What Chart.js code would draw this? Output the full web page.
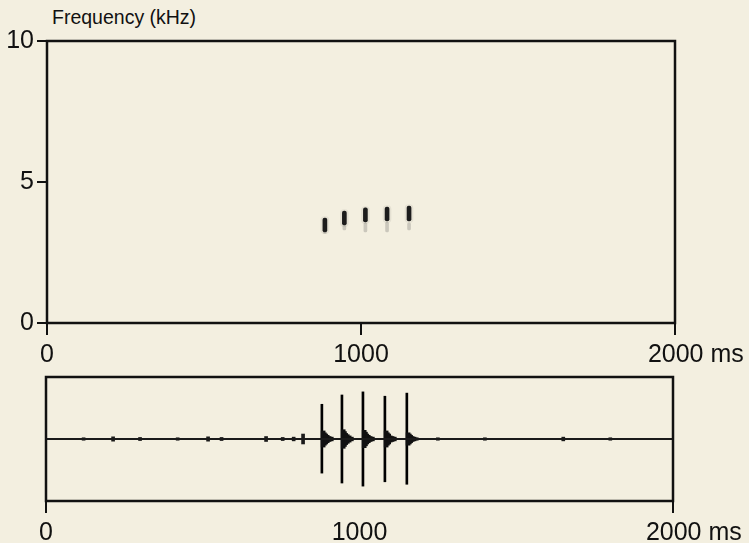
<!DOCTYPE html>
<html>
<head>
<meta charset="utf-8">
<script src="https://cdn.jsdelivr.net/npm/chart.js@4"></script>
<style>
    body { margin: 0; background: #f3efe0; }
    #wrap { position: relative; width: 749px; height: 543px; overflow: hidden; }
    #title { position: absolute; left: 52px; top: 6px; font: 19.5px "Liberation Sans", Arial, sans-serif; color: #111; }
    canvas { position: absolute; left: 0; }
</style>
</head>
<body>
<div id="wrap">
    <div id="title">Frequency (kHz)</div>
    <canvas id="spec" width="749" height="370" style="top:0"></canvas>
    <canvas id="wave" width="749" height="173" style="top:370px"></canvas>
</div>
<script>
// Time axis (ms)
const timeTicks = [0, 1000, 2000];
const freqTicks = [0, 5, 10];

// Spectrogram pulses: time (ms), dark part and faint lower part (kHz)
const specTimes = [885, 947, 1014, 1083, 1153];
const specLo = [3.23, 3.48, 3.58, 3.62, 3.62];
const specHi = [3.72, 3.97, 4.08, 4.11, 4.15];
const faintLo = [3.18, 3.3, 3.23, 3.23, 3.3];
const faintHi = [3.25, 3.48, 3.55, 3.58, 3.55];

// Waveform: main clicks (relative amplitude)
const pulseTimes = [880, 944, 1011, 1081, 1151];
const pulseMax = [0.56, 0.71, 0.76, 0.69, 0.74];
const pulseMin = [-0.55, -0.71, -0.76, -0.69, -0.73];

// Waveform: ringing after each click
const tailTimes = [884, 888, 892, 897, 903, 910, 948, 952, 956, 961, 967, 974,
    1015, 1019, 1023, 1028, 1034, 1041, 1085, 1089, 1093, 1098, 1104, 1111,
    1155, 1159, 1163, 1168, 1174, 1181];
const tailAmps = [0.13, 0.1, 0.08, 0.06, 0.04, 0.03, 0.15, 0.12, 0.09, 0.07, 0.05, 0.03,
    0.14, 0.11, 0.08, 0.06, 0.04, 0.03, 0.13, 0.1, 0.08, 0.05, 0.04, 0.03,
    0.1, 0.08, 0.06, 0.04, 0.03, 0.02];

// Waveform: background noise blobs
const noiseTimes = [120, 214, 300, 420, 517, 560, 702, 755, 790, 820, 1250, 1400, 1650, 1800];
const noiseAmps = [0.02, 0.035, 0.025, 0.02, 0.035, 0.025, 0.04, 0.025, 0.03, 0.08, 0.02, 0.02, 0.03, 0.02];

const FONT = '"Liberation Sans", Arial, sans-serif';
const INK = '#111';
const NB = '\u00a0';

// Frame round the plot area
const boxPlugin = {
    id: 'box',
    afterDraw(chart) {
        const { ctx, chartArea: a } = chart;
        ctx.save();
        ctx.strokeStyle = INK;
        ctx.lineWidth = 2.5;
        ctx.strokeRect(a.left, a.top, a.right - a.left, a.bottom - a.top);
        ctx.restore();
    }
};

function timeLabel(v) {
    if (v === 2000) return NB.repeat(6) + '2000 ms';
    return String(v);
}

function xScale(height, hideMid) {
    return {
        type: 'linear',
        min: 0,
        max: 2000,
        offset: false,
        afterBuildTicks: s => { s.ticks = timeTicks.map(v => ({ value: v })); },
        ticks: { color: INK, font: { family: FONT, size: 25 }, padding: 5, maxRotation: 0, autoSkip: false, callback: timeLabel },
        grid: {
            drawOnChartArea: false, offset: false, tickLength: 12, lineWidth: 2,
            color: c => (hideMid && c.tick && c.tick.value === 1000) ? 'rgba(0,0,0,0)' : INK
        },
        border: { display: false },
        afterFit(s) { s.height = height; }
    };
}

function createSpectrogram() {
    const ctx = document.getElementById('spec');
    new Chart(ctx, {
        type: 'bar',
        data: {
            datasets: [
                {
                    data: specTimes.map((t, i) => ({ x: t, y: [specLo[i] - 0.06, specHi[i] + 0.05] })),
                    backgroundColor: 'rgba(0,0,0,0.06)',
                    barThickness: 8,
                    borderRadius: 4
                },
                {
                    data: specTimes.map((t, i) => ({ x: t, y: [faintLo[i], faintHi[i]] })),
                    backgroundColor: 'rgba(60,60,60,0.22)',
                    barThickness: 3,
                    borderRadius: 1.5
                },
                {
                    data: specTimes.map((t, i) => ({ x: t, y: [specLo[i], specHi[i]] })),
                    backgroundColor: '#1e1e1e',
                    barThickness: 4,
                    borderRadius: 2
                }
            ]
        },
        options: {
            responsive: false,
            animation: false,
            layout: { padding: { top: 41, right: 74, left: 0, bottom: 0 } },
            datasets: { bar: { grouped: false, borderWidth: 0, borderSkipped: false } },
            plugins: { legend: { display: false }, tooltip: { enabled: false } },
            scales: {
                x: xScale(47, false),
                y: {
                    min: 0,
                    max: 10,
                    afterBuildTicks: s => { s.ticks = freqTicks.map(v => ({ value: v })); },
                    ticks: { color: INK, font: { family: FONT, size: 25 }, padding: 3 },
                    grid: { drawOnChartArea: false, tickLength: 10, lineWidth: 2, color: INK },
                    border: { display: false },
                    afterFit(s) { s.width = 47; }
                }
            }
        },
        plugins: [boxPlugin]
    });
}

function createWaveform() {
    const ctx = document.getElementById('wave');
    new Chart(ctx, {
        type: 'bar',
        data: {
            datasets: [
                {
                    type: 'line',
                    data: [{ x: 0, y: 0 }, { x: 2000, y: 0 }],
                    borderColor: '#1a1a1a',
                    borderWidth: 2,
                    pointRadius: 0
                },
                {
                    data: noiseTimes.map((t, i) => ({ x: t, y: [-noiseAmps[i], noiseAmps[i]] })),
                    backgroundColor: '#1a1a1a',
                    barThickness: 3
                },
                {
                    data: tailTimes.map((t, i) => ({ x: t, y: [-tailAmps[i], tailAmps[i]] })),
                    backgroundColor: '#111',
                    barThickness: 4
                },
                {
                    data: pulseTimes.map((t, i) => ({ x: t, y: [pulseMin[i], pulseMax[i]] })),
                    backgroundColor: '#000',
                    barThickness: 2
                }
            ]
        },
        options: {
            responsive: false,
            animation: false,
            layout: { padding: { top: 7, right: 76, left: 46, bottom: 0 } },
            datasets: { bar: { grouped: false, borderWidth: 0 } },
            plugins: { legend: { display: false }, tooltip: { enabled: false } },
            scales: {
                x: xScale(42, true),
                y: { display: false, min: -1, max: 1 }
            }
        },
        plugins: [boxPlugin]
    });
}

createSpectrogram();
createWaveform();
</script>
</body>
</html>
